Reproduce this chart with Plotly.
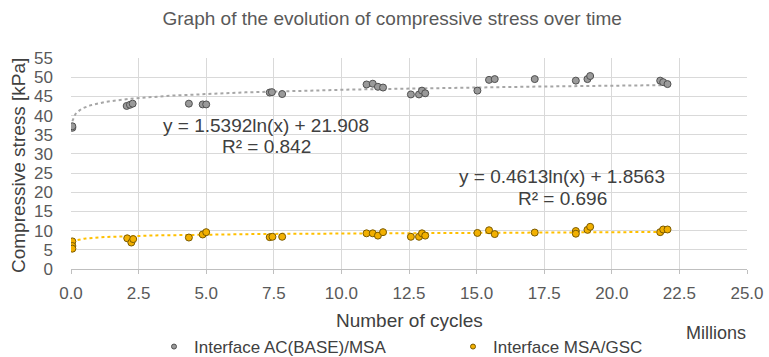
import numpy as np
import plotly.graph_objects as go

# Data (x in millions of cycles, y in kPa)
gray_x = [0.05, 0.05, 2.06, 2.18, 2.28, 4.36, 4.87, 5.0, 7.35, 7.43, 7.81, 10.93, 11.16, 11.35, 11.54,
          12.57, 12.87, 12.98, 13.1, 15.03, 15.46, 15.67, 17.15, 18.67, 19.1, 19.2, 21.79, 21.9, 22.06]
gray_y = [36.8, 37.2, 42.5, 42.8, 43.1, 43.1, 42.9, 42.9, 46.0, 46.1, 45.6, 48.1, 48.3, 47.5, 47.3,
          45.5, 45.5, 46.5, 45.8, 46.5, 49.3, 49.5, 49.5, 49.1, 49.5, 50.3, 49.1, 48.7, 48.2]

orange_x = [0.05, 0.05, 0.05, 2.08, 2.23, 2.3, 4.36, 4.87, 5.0, 7.35, 7.45, 7.81, 10.93, 11.16, 11.35, 11.54,
            12.57, 12.87, 12.98, 13.1, 15.03, 15.46, 15.67, 17.15, 18.67, 18.67, 19.1, 19.2, 21.79, 21.9, 22.06]
orange_y = [7.2, 6.0, 5.3, 8.0, 6.9, 7.8, 8.2, 9.0, 9.6, 8.3, 8.4, 8.4, 9.3, 9.3, 8.7, 9.6,
            8.4, 8.4, 9.3, 8.7, 9.4, 10.1, 9.1, 9.5, 9.9, 9.2, 10.2, 11.0, 9.6, 10.3, 10.3]

series_names = ["Interface AC(BASE)/MSA", "Interface MSA/GSC"]

# Trendline coefficients shown in the chart: y = a*ln(x) + b (x in cycles)
gray_a, gray_b = 1.5392, 21.908
orange_a, orange_b = 0.4613, 1.8563
gray_r2 = "0.842"
orange_r2 = "0.696"

x_ticks = [0, 2.5, 5, 7.5, 10, 12.5, 15, 17.5, 20, 22.5, 25]
y_ticks = list(range(0, 60, 5))

FONT = "Liberation Sans, Arial, sans-serif"
GRAY_FILL, GRAY_LINE, GRAY_TREND = "#9a9a9a", "#505050", "#a6a6a6"
OR_FILL, OR_LINE, OR_TREND = "#f2b000", "#7a5a00", "#ffc000"


def trend(a, b, xs):
    xg = np.linspace(min(xs), max(xs), 400)
    return xg, a * np.log(xg * 1e6) + b


fig = go.Figure()

gx, gy = trend(gray_a, gray_b, gray_x)
ox, oy = trend(orange_a, orange_b, orange_x)
fig.add_trace(go.Scatter(x=gx, y=gy, mode="lines", line=dict(color=GRAY_TREND, width=2, dash="dot"),
                         showlegend=False, hoverinfo="skip"))
fig.add_trace(go.Scatter(x=ox, y=oy, mode="lines", line=dict(color=OR_TREND, width=2, dash="dot"),
                         showlegend=False, hoverinfo="skip"))

fig.add_trace(go.Scatter(x=gray_x, y=gray_y, mode="markers", name=series_names[0], showlegend=False,
                         marker=dict(size=7, color=GRAY_FILL, line=dict(color=GRAY_LINE, width=1))))
fig.add_trace(go.Scatter(x=orange_x, y=orange_y, mode="markers", name=series_names[1], showlegend=False,
                         marker=dict(size=7, color=OR_FILL, line=dict(color=OR_LINE, width=1))))

# legend-only entries with small symbols
fig.add_trace(go.Scatter(x=[None], y=[None], mode="markers", name=series_names[0],
                         marker=dict(size=5, color=GRAY_FILL, line=dict(color=GRAY_LINE, width=1))))
fig.add_trace(go.Scatter(x=[None], y=[None], mode="markers", name=series_names[1],
                         marker=dict(size=5, color=OR_FILL, line=dict(color=OR_LINE, width=1))))

eq_font = dict(family=FONT, size=19, color="#404040")
fig.add_annotation(x=7.22, y=37.5, text=f"y = {gray_a}ln(x) + {gray_b}", showarrow=False, font=eq_font)
fig.add_annotation(x=7.24, y=31.9, text=f"R² = {gray_r2}", showarrow=False, font=eq_font)
fig.add_annotation(x=18.15, y=24.0, text=f"y = {orange_a}ln(x) + {orange_b}", showarrow=False, font=eq_font)
fig.add_annotation(x=18.17, y=18.25, text=f"R² = {orange_r2}", showarrow=False, font=eq_font)

axis_title_font = dict(family=FONT, size=19, color="#404040")
fig.add_annotation(xref="paper", yref="paper", x=0.954, y=-0.303, text="Millions", showarrow=False,
                   font=dict(family=FONT, size=18, color="#404040"), xanchor="center", yanchor="middle")
fig.add_annotation(xref="paper", yref="paper", x=(409 - 71) / 676, y=-0.246, text="Number of cycles",
                   showarrow=False, font=axis_title_font, xanchor="center", yanchor="middle")
fig.add_annotation(xref="paper", yref="paper", x=(18 - 71) / 676, y=0.488, text="Compressive stress [kPa]",
                   showarrow=False, font=axis_title_font, xanchor="center", yanchor="middle", textangle=-90)

fig.update_layout(
    width=769, height=357,
    margin=dict(l=71, r=22, t=58, b=88, autoexpand=False),
    paper_bgcolor="white", plot_bgcolor="white",
    font=dict(family=FONT, color="#595959"),
    title=dict(text="Graph of the evolution of compressive stress over time",
               x=0.51, xanchor="center", y=0.95, yanchor="middle",
               font=dict(family=FONT, size=19, color="#595959")),
    legend=dict(orientation="h", xref="container", yref="container",
                x=(169 - 15) / 769, xanchor="left", y=1 - 347 / 357, yanchor="middle",
                font=dict(family=FONT, size=17, color="#404040"),
                entrywidth=254, entrywidthmode="pixels", itemwidth=30,
                bgcolor="rgba(0,0,0,0)"),
    showlegend=True,
)

fig.update_xaxes(range=[0, 25], tickvals=x_ticks, ticktext=[f"{v:.1f}" for v in x_ticks],
                 showgrid=True, gridcolor="#d9d9d9", gridwidth=1, zeroline=False,
                 showline=True, linecolor="#bfbfbf", linewidth=1,
                 ticks="outside", ticklen=4, tickcolor="#bfbfbf", ticklabeloverflow="allow",
                 tickfont=dict(family=FONT, size=17, color="#595959"), ticklabelstandoff=5)
fig.update_yaxes(range=[0, 55], tickvals=y_ticks, showgrid=True, gridcolor="#d9d9d9", gridwidth=1,
                 zeroline=False, showline=False, ticks="",
                 tickfont=dict(family=FONT, size=17, color="#595959"), ticklabelstandoff=17)

fig.write_html(
    "out.html",
    config={"displayModeBar": False},
    post_script="document.body.style.margin='0';document.documentElement.style.overflow='hidden';",
)
